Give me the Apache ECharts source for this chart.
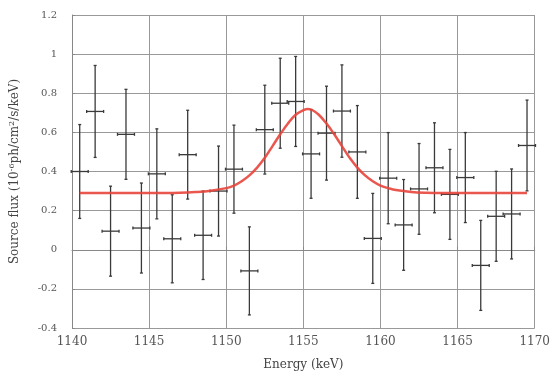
<!DOCTYPE html>
<html>
<head>
<meta charset="utf-8">
<script src="https://cdn.jsdelivr.net/npm/echarts@6/dist/echarts.min.js"></script>
<style>
  html, body { margin: 0; padding: 0; background: #fff; }
  #chart { width: 553px; height: 376px; }
</style>
</head>
<body>
<div id="chart"></div>
<script>
// bin centres (keV), measured flux and 1-sigma errors
const energies = [1140.5, 1141.5, 1142.5, 1143.5, 1144.5, 1145.5, 1146.5, 1147.5, 1148.5, 1149.5,
  1150.5, 1151.5, 1152.5, 1153.5, 1154.5, 1155.5, 1156.5, 1157.5, 1158.5, 1159.5,
  1160.5, 1161.5, 1162.5, 1163.5, 1164.5, 1165.5, 1166.5, 1167.5, 1168.5, 1169.5];
const flux = [0.40, 0.707, 0.095, 0.59, 0.111, 0.388, 0.056, 0.486, 0.074, 0.30,
  0.412, -0.108, 0.614, 0.749, 0.758, 0.49, 0.596, 0.709, 0.50, 0.058,
  0.366, 0.127, 0.311, 0.419, 0.283, 0.369, -0.08, 0.171, 0.183, 0.533];
const fluxErr = [0.24, 0.235, 0.23, 0.23, 0.23, 0.23, 0.225, 0.227, 0.226, 0.23,
  0.225, 0.225, 0.227, 0.23, 0.23, 0.227, 0.24, 0.236, 0.237, 0.23,
  0.233, 0.232, 0.232, 0.23, 0.23, 0.23, 0.23, 0.23, 0.23, 0.232];
const binHalfWidth = 0.55;

// fitted line profile
const modelE = [1140.5, 1146, 1147, 1148, 1149, 1150, 1150.5, 1151, 1151.5, 1152, 1152.5, 1153, 1153.5,
  1154, 1154.5, 1155, 1155.3, 1155.6, 1156, 1156.5, 1157, 1157.5, 1158, 1158.5, 1159, 1159.5,
  1160, 1160.5, 1161, 1162, 1163, 1164, 1169.5];
const modelFlux = [0.29, 0.29, 0.291, 0.295, 0.302, 0.315, 0.328, 0.35, 0.38, 0.42, 0.47, 0.53, 0.59,
  0.645, 0.69, 0.714, 0.72, 0.713, 0.69, 0.645, 0.59, 0.53, 0.47, 0.42, 0.38, 0.35,
  0.328, 0.315, 0.305, 0.295, 0.291, 0.29, 0.29];

const font = "DejaVu Serif";
const chart = echarts.init(document.getElementById("chart"));

const errData = energies.map((e, i) => [e, flux[i], fluxErr[i]]);

chart.setOption({
  animation: false,
  grid: { left: 72, right: 17, top: 15, bottom: 45 },
  xAxis: {
    type: "value",
    min: 1140,
    max: 1170,
    interval: 5,
    name: "Energy (keV)",
    nameLocation: "middle",
    nameGap: 31,
    nameTextStyle: { fontFamily: font, fontSize: 12, color: "#444" },
    axisLine: { show: true, lineStyle: { color: "#888" } },
    axisTick: { show: true, inside: true, length: 3, lineStyle: { color: "#888" } },
    axisLabel: {
      fontFamily: font, fontSize: 12, color: "#555", margin: 8,
      formatter: (v) => String(v)
    },
    splitLine: { show: true, lineStyle: { color: "#999", width: 1 } }
  },
  yAxis: {
    type: "value",
    min: -0.4,
    max: 1.2,
    interval: 0.2,
    name: "Source flux (10{sup|-6}ph/cm{sup|2}/s/keV)",
    nameLocation: "middle",
    nameGap: 50,
    nameTextStyle: {
      fontFamily: font, fontSize: 12, color: "#444",
      rich: { sup: { fontFamily: font, fontSize: 8, color: "#444", verticalAlign: "top", padding: [0, 0, 6, 0] } }
    },
    axisLine: { show: true, lineStyle: { color: "#888" } },
    axisTick: { show: true, inside: true, length: 3, lineStyle: { color: "#888" } },
    axisLabel: {
      fontFamily: font, fontSize: 10, color: "#555", margin: 15,
      formatter: (v) => String(+v.toFixed(1))
    },
    splitLine: { show: true, lineStyle: { color: "#999", width: 1 } }
  },
  series: [
    {
      type: "custom",
      name: "data",
      data: errData,
      z: 3,
      renderItem: function (params, api) {
        const x = api.value(0);
        const y = api.value(1);
        const err = api.value(2);
        const top = api.coord([x, y + err]);
        const bot = api.coord([x, y - err]);
        const left = api.coord([x - binHalfWidth, y]);
        const right = api.coord([x + binHalfWidth, y]);
        const style = { stroke: "#3a3a3a", lineWidth: 1.3 };
        const cap = 1.5;
        return {
          type: "group",
          children: [
            { type: "line", shape: { x1: top[0], y1: top[1], x2: bot[0], y2: bot[1] }, style },
            { type: "line", shape: { x1: left[0], y1: left[1], x2: right[0], y2: right[1] }, style },
            { type: "line", shape: { x1: top[0] - cap, y1: top[1], x2: top[0] + cap, y2: top[1] }, style },
            { type: "line", shape: { x1: bot[0] - cap, y1: bot[1], x2: bot[0] + cap, y2: bot[1] }, style },
            { type: "line", shape: { x1: left[0], y1: left[1] - cap, x2: left[0], y2: left[1] + cap }, style },
            { type: "line", shape: { x1: right[0], y1: right[1] - cap, x2: right[0], y2: right[1] + cap }, style }
          ]
        };
      }
    },
    {
      type: "line",
      name: "model",
      data: modelE.map((e, i) => [e, modelFlux[i]]),
      smooth: 0.4,
      showSymbol: false,
      z: 4,
      lineStyle: { color: "#e8453c", width: 2.5, opacity: 0.9 }
    }
  ]
});
</script>
</body>
</html>
